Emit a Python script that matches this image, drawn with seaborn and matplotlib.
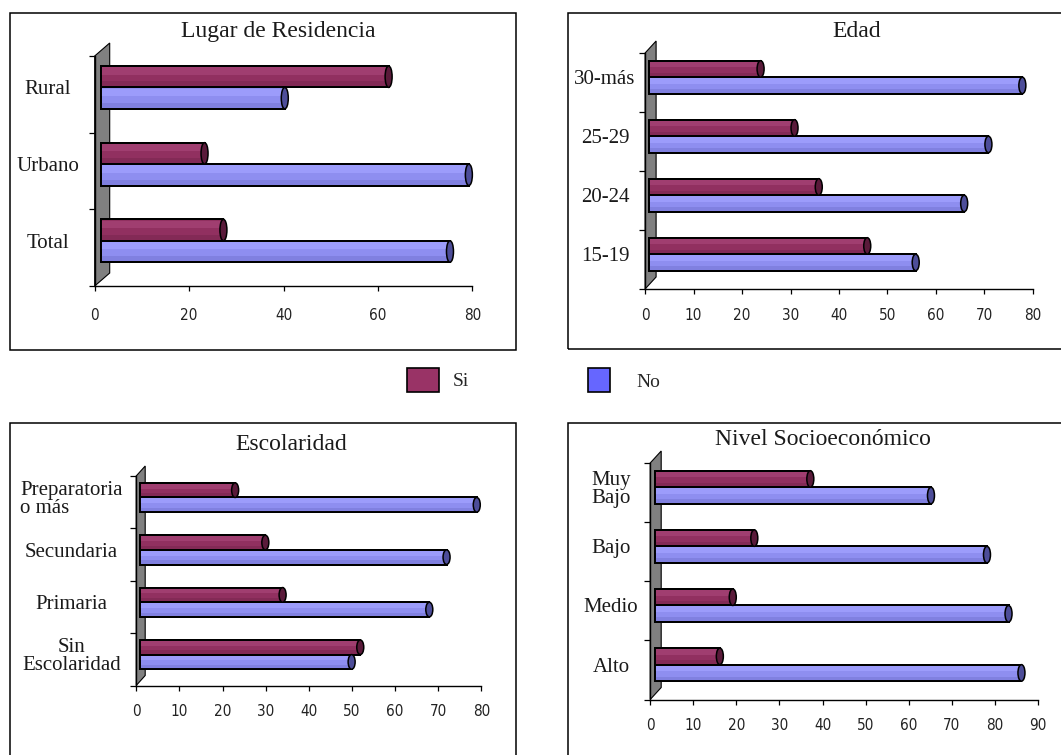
import numpy as np
import pandas as pd
import matplotlib
matplotlib.use("Agg")
import matplotlib.pyplot as plt
import seaborn as sns
from matplotlib.patches import Rectangle, Ellipse, Polygon
from matplotlib.transforms import ScaledTranslation

# ---- data -------------------------------------------------------------
respuestas = ["Si", "No"]

residencia_cat = ["Rural", "Urbano", "Total"]
residencia_si = [61, 22, 26]
residencia_no = [39, 78, 74]

edad_cat = ["30-más", "25-29", "20-24", "15-19"]
edad_si = [23, 30, 35, 45]
edad_no = [77, 70, 65, 55]

escolaridad_cat = ["Preparatoria\no más", "Secundaria", "Primaria", "Sin\nEscolaridad"]
escolaridad_si = [22, 29, 33, 51]
escolaridad_no = [78, 71, 67, 49]

nse_cat = ["Muy\nBajo", "Bajo", "Medio", "Alto"]
nse_si = [36, 23, 18, 15]
nse_no = [64, 77, 82, 85]

# ---- styling ----------------------------------------------------------
sns.set_theme(style="white")
plt.rcParams["font.family"] = ["Liberation Serif", "DejaVu Serif"]

W, H = 1061, 755
fig = plt.figure(figsize=(W / 100, H / 100), dpi=100)
fig.patch.set_facecolor("white")

body = {"Si": "#913060", "No": "#8e8ef0"}
light = {"Si": "#a03e70", "No": "#9c9cfb"}
shade = {"Si": "#832a56", "No": "#8080e0"}
cap = {"Si": "#5a1a3a", "No": "#4d4d99"}
legend_col = {"Si": "#993366", "No": "#6666ff"}

panels = [
    dict(title="Lugar de Residencia", cats=residencia_cat, si=residencia_si, no=residencia_no,
         xmax=80, xstep=20, axpx=(94.7, 56, 472.3, 286), wall=(15, 13), shift=6,
         title_xy=(278, 37.5), label_cx=48, xpad=17,
         box=(9.5, 12.7, 515.5, 350.5)),
    dict(title="Edad", cats=edad_cat, si=edad_si, no=edad_no,
         xmax=80, xstep=10, axpx=(645.1, 53, 1032.9, 289), wall=(11, 12), shift=4,
         title_xy=(857, 36.7), label_cx=605, xpad=14,
         box=(568.3, 12.7, 1075, 349)),
    dict(title="Escolaridad", cats=escolaridad_cat, si=escolaridad_si, no=escolaridad_no,
         xmax=80, xstep=10, axpx=(136.2, 476, 481.4, 685.5), wall=(9, 10), shift=4,
         title_xy=(291, 450), label_cx=71.5, xpad=14,
         box=(9.5, 422.7, 515.5, 770)),
    dict(title="Nivel Socioeconómico", cats=nse_cat, si=nse_si, no=nse_no,
         xmax=90, xstep=10, axpx=(650.2, 463, 1038, 699.5), wall=(11, 12), shift=5,
         title_xy=(823, 445), label_cx=611, xpad=13.5,
         box=(568.3, 422.7, 1075, 770)),
]

PX2PT = 0.72
d = 0.09  # vertical offset of the category bands


def draw_panel(p):
    l, t, r, b = p["axpx"]
    ax = fig.add_axes([l / W, 1 - b / H, (r - l) / W, (b - t) / H])
    ax.patch.set_alpha(0)
    cats = p["cats"]
    n = len(cats)
    df = pd.DataFrame({
        "categoria": cats * 2,
        "respuesta": ["Si"] * n + ["No"] * n,
        "valor": p["si"] + p["no"],
    })
    sns.barplot(data=df, x="valor", y="categoria", hue="respuesta", order=cats,
                hue_order=respuestas, palette=body, orient="h", width=0.56,
                saturation=1, edgecolor="black", linewidth=1.3, legend=False,
                ax=ax, zorder=3)
    bars = [pt for pt in ax.patches if pt.get_width() > 0]

    ax.set_xlim(0, p["xmax"])
    ax.set_ylim(n - 0.5 + d, -0.5 + d)
    ax.set_xlabel("")
    ax.set_ylabel("")

    # gray 3D wall behind the bars
    dx = p["wall"][0] / (r - l)
    dy = p["wall"][1] / (b - t)
    ax.add_patch(Polygon([(0, 0), (0, 1), (dx, 1 + dy), (dx, dy)], closed=True,
                         transform=ax.transAxes, fc="#808080", ec="black",
                         lw=0.8, zorder=1, clip_on=False))

    # cylinder look: highlight, shading, end cap
    ppu = (r - l) / p["xmax"]
    tr = ax.transData + ScaledTranslation(p["shift"] / 100, 0, fig.dpi_scale_trans)
    for bar in bars:
        fc = bar.get_facecolor()[:3]
        key = "Si" if fc[0] > fc[2] else "No"
        x0, y0, w, h = bar.get_x(), bar.get_y(), bar.get_width(), bar.get_height()
        bar.set_transform(tr)
        ax.add_patch(Rectangle((x0, y0 + 0.06 * h), w, 0.34 * h, transform=tr,
                               fc=light[key], ec="none", zorder=3.1))
        ax.add_patch(Rectangle((x0, y0 + 0.72 * h), w, 0.24 * h, transform=tr,
                               fc=shade[key], ec="none", zorder=3.1))
        ax.add_patch(Rectangle((x0, y0), w, h, transform=tr, fill=False,
                               ec="black", lw=1.4, zorder=3.5))
        ax.add_patch(Ellipse((x0 + w, y0 + h / 2), width=7 / ppu, height=h,
                             transform=tr, fc=cap[key], ec="black", lw=1.1,
                             zorder=4, clip_on=False))

    # axes, ticks and labels
    ax.set_xticks(np.arange(0, p["xmax"] + 1, p["xstep"]))
    for lab in ax.get_xticklabels():
        lab.set_family("DejaVu Sans")
        lab.set_fontstretch("condensed")
        lab.set_fontsize(11)
        lab.set_color("#222222")
    ax.set_yticks(range(n))
    ax.set_yticklabels(cats, ha="center", fontsize=15, linespacing=0.95,
                       color="#1a1a1a")
    for lab in ax.get_yticklabels():
        if lab.get_text().startswith("Preparatoria"):
            lab.set_multialignment("left")
    ax.set_yticks(np.arange(n + 1) - 0.5 + d, minor=True)
    ax.tick_params(axis="y", which="major", length=0,
                   pad=(l - p["label_cx"]) * PX2PT)
    ax.tick_params(axis="y", which="minor", left=True, length=4.3, width=0.9,
                   color="black", direction="out")
    ax.tick_params(axis="x", which="major", bottom=True, length=3.6, width=0.9,
                   color="black", direction="out", pad=p["xpad"] * PX2PT)
    for side in ("top", "right"):
        ax.spines[side].set_visible(False)
    for side in ("left", "bottom"):
        ax.spines[side].set_visible(True)
        ax.spines[side].set_color("black")
        ax.spines[side].set_linewidth(1.0)

    tx, ty = p["title_xy"]
    fig.text(tx / W, 1 - ty / H, p["title"], ha="center", va="baseline",
             fontsize=17, color="#1a1a1a")

    x0, y0, x1, y1 = p["box"]
    fig.add_artist(Rectangle((x0 / W, 1 - y1 / H), (x1 - x0) / W, (y1 - y0) / H,
                             transform=fig.transFigure, fill=False, ec="black",
                             lw=1.1))


for p in panels:
    draw_panel(p)

# shared legend between the rows
fig.add_artist(Rectangle((407.3 / W, 1 - 391.7 / H), 31.7 / W, 23.4 / H,
                         transform=fig.transFigure, fc=legend_col["Si"],
                         ec="black", lw=1.2))
fig.text(453 / W, 1 - 382 / H, "Si", ha="left", va="center", fontsize=14)
fig.add_artist(Rectangle((588.3 / W, 1 - 391.7 / H), 21.7 / W, 23.4 / H,
                         transform=fig.transFigure, fc=legend_col["No"],
                         ec="black", lw=1.2))
fig.text(636 / W, 1 - 383 / H, "No", ha="left", va="center", fontsize=14)

fig.savefig("out.png", dpi=100, facecolor="white")
